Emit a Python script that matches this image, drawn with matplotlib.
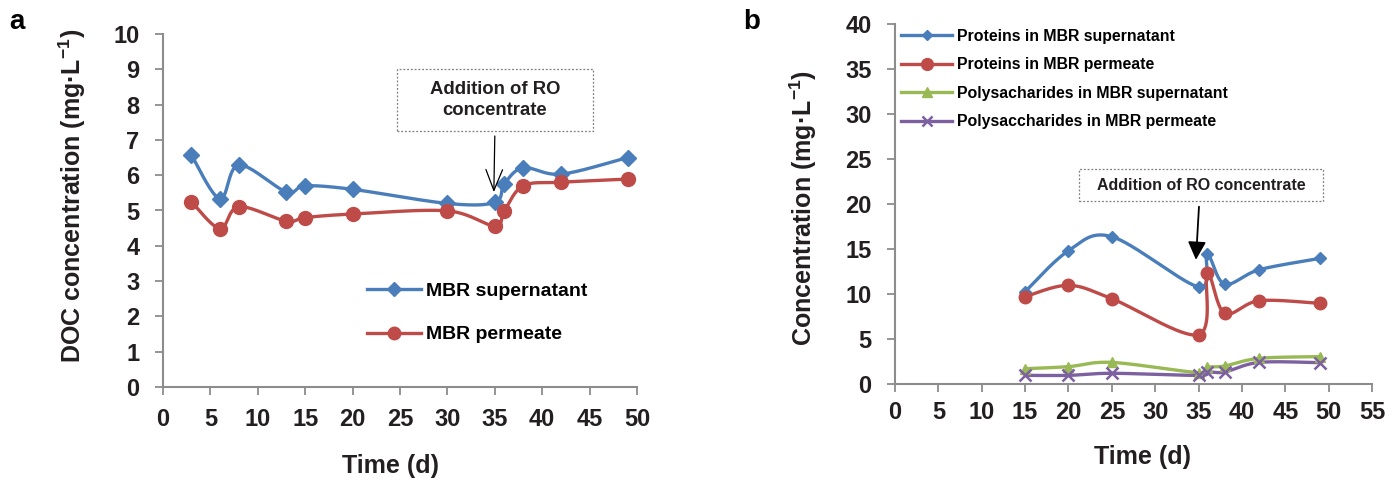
import numpy as np
import matplotlib
matplotlib.use("Agg")
import matplotlib.pyplot as plt
from matplotlib.patches import Rectangle

plt.rcParams['font.family'] = ['Liberation Sans', 'DejaVu Sans']
plt.rcParams['font.weight'] = 'bold'
plt.rcParams['mathtext.fontset'] = 'custom'
plt.rcParams['mathtext.bf'] = 'Liberation Sans:bold'
plt.rcParams['mathtext.rm'] = 'Liberation Sans:bold'

# ---------------- data ----------------
days_a = [3, 6, 8, 13, 15, 20, 30, 35, 36, 38, 42, 49]
doc_supernatant = [6.57, 5.33, 6.29, 5.53, 5.70, 5.60, 5.20, 5.23, 5.75, 6.21, 6.03, 6.50]
doc_permeate = [5.25, 4.49, 5.11, 4.70, 4.80, 4.90, 4.99, 4.56, 4.99, 5.70, 5.80, 5.89]

days_b = [15, 20, 25, 35, 36, 38, 42, 49]
prot_supernatant = [10.26, 14.8, 16.37, 10.8, 14.4, 11.1, 12.7, 13.96]
prot_permeate = [9.7, 10.96, 9.48, 5.48, 12.3, 7.85, 9.26, 8.96]
poly_supernatant = [1.7, 1.93, 2.4, 1.26, 1.85, 2.0, 2.85, 3.04]
poly_permeate = [0.96, 0.96, 1.19, 0.96, 1.33, 1.33, 2.4, 2.37]

labels_a = ['MBR supernatant', 'MBR permeate']
labels_b = ['Proteins in MBR supernatant', 'Proteins in MBR permeate',
            'Polysacharides in MBR supernatant', 'Polysaccharides in MBR permeate']

BLUE = '#4A7EBB'
RED = '#BE4B48'
GREEN = '#98B954'
PURPLE = '#7D60A0'
SPINE = '#8c8c8c'
TXT = '#231f20'


def smooth(x, y, n=40):
    pts = np.column_stack([x, y]).astype(float)
    out = []
    m = len(pts)
    t = np.linspace(0, 1, n)[:, None]
    for i in range(m - 1):
        p0 = pts[i - 1] if i > 0 else pts[i]
        p1 = pts[i]
        p2 = pts[i + 1]
        p3 = pts[i + 2] if i + 2 < m else pts[i + 1]
        c1 = p1 + (p2 - p0) / 6.0
        c2 = p2 - (p3 - p1) / 6.0
        seg = ((1 - t) ** 3) * p1 + 3 * ((1 - t) ** 2) * t * c1 + 3 * (1 - t) * t ** 2 * c2 + t ** 3 * p2
        out.append(seg if i == 0 else seg[1:])
    arr = np.vstack(out)
    return arr[:, 0], arr[:, 1]


def series(ax, x, y, color, marker, ms, lw, label, mew=1.0, lms=None):
    sx, sy = smooth(x, y)
    ax.plot(sx, sy, color=color, lw=lw, solid_capstyle='round', zorder=2)
    ax.plot(x, y, linestyle='none', marker=marker, ms=ms, color=color,
            markeredgecolor=color, mew=mew, zorder=3)
    return ax.plot([], [], color=color, lw=lw, marker=marker, ms=lms if lms else ms,
                   markeredgecolor=color, mew=mew, label=label)[0]


def style_axes(ax, xpad, ypad, fs):
    for s in ['top', 'right']:
        ax.spines[s].set_visible(False)
    for s in ['left', 'bottom']:
        ax.spines[s].set_color(SPINE)
        ax.spines[s].set_linewidth(1.5)
    ax.tick_params(axis='both', direction='out', length=6, width=1.3, color=SPINE,
                   labelsize=fs, labelcolor=TXT)
    ax.tick_params(axis='x', pad=xpad)
    ax.tick_params(axis='y', pad=ypad)
    for lab in ax.get_xticklabels() + ax.get_yticklabels():
        lab.set_fontweight('bold')


fig = plt.figure(figsize=(13.99, 4.80), dpi=100)

# ---------------- panel a ----------------
axa = fig.add_axes([163 / 1399, (480 - 387) / 480, (637 - 163) / 1399, (387 - 34) / 480])
h1 = series(axa, days_a, doc_supernatant, BLUE, 'D', 8, 2.4, labels_a[0], lms=7)
h2 = series(axa, days_a, doc_permeate, RED, 'o', 10, 2.4, labels_a[1], lms=9)
axa.set_xlim(0, 50)
axa.set_ylim(0, 10)
axa.set_xticks(np.arange(0, 51, 5))
axa.set_yticks(np.arange(0, 11, 1))
style_axes(axa, 9, 11, 17)
axa.set_xlabel('Time (d)', fontsize=18, fontweight='bold', color=TXT)
axa.xaxis.set_label_coords((391 - 163) / 474, -(454 - 387) / 353)
axa.set_ylabel('DOC concentration (mg·L$^{\\mathbf{-1}}$)', fontsize=18, fontweight='bold', color=TXT)
axa.yaxis.set_label_coords(-(163 - 88) / 474, (387 - 196) / 353)
fig.legend(handles=[h1, h2], loc='upper left', bbox_to_anchor=(367 / 1399, (480 - 282) / 480),
           frameon=False, handlelength=2.8, handletextpad=0.25,
           labelspacing=1.35, borderpad=0, borderaxespad=0, prop={'weight': 'bold', 'size': 14})

# annotation box a
fig.patches.append(Rectangle((397 / 1399, (480 - 131) / 480), (593 - 397) / 1399, (131 - 69) / 480,
                             transform=fig.transFigure, fill=False, edgecolor='#7f7f7f',
                             linestyle=(0, (1.5, 1.5)), linewidth=0.9))
fig.text(495 / 1399, (480 - 100) / 480, 'Addition of RO\nconcentrate', ha='center', va='center',
         fontsize=13.3, fontweight='bold', color=TXT, linespacing=1.3)
axa.annotate('', xy=(34.9, 5.52), xytext=(35.0, 7.11),
             arrowprops=dict(arrowstyle='->,head_length=1.5,head_width=0.6', color='black',
                             lw=0.9, mutation_scale=10, shrinkA=0, shrinkB=0))

# ---------------- panel b ----------------
axb = fig.add_axes([895 / 1399, (480 - 384) / 480, (1372 - 895) / 1399, (384 - 24) / 480])
g1 = series(axb, days_b, prot_supernatant, BLUE, 'D', 6.5, 2.4, labels_b[0], lms=5.5)
g2 = series(axb, days_b, prot_permeate, RED, 'o', 9, 2.4, labels_b[1], lms=8.5)
g3 = series(axb, days_b, poly_supernatant, GREEN, '^', 7.5, 2.4, labels_b[2], lms=6.5)
g4 = series(axb, days_b, poly_permeate, PURPLE, 'x', 8, 2.4, labels_b[3], mew=1.8, lms=6.5)
axb.set_xlim(0, 55)
axb.set_ylim(0, 40)
axb.set_xticks(np.arange(0, 56, 5))
axb.set_yticks(np.arange(0, 41, 5))
style_axes(axb, 6, 11, 17)
axb.set_xlabel('Time (d)', fontsize=18, fontweight='bold', color=TXT)
axb.xaxis.set_label_coords((1142 - 895) / 477, -(445 - 384) / 360)
axb.set_ylabel('Concentration (mg·L$^{\\mathbf{-1}}$)', fontsize=18, fontweight='bold', color=TXT)
axb.yaxis.set_label_coords(-(895 - 819) / 477, (384 - 208) / 360)
fig.legend(handles=[g1, g2, g3, g4], loc='upper left', bbox_to_anchor=(901 / 1399, (480 - 29) / 480),
           frameon=False, handlelength=3.25, handletextpad=0.3,
           labelspacing=0.85, borderpad=0, borderaxespad=0, prop={'weight': 'bold', 'size': 11.4})

fig.patches.append(Rectangle((1079 / 1399, (480 - 201) / 480), (1323 - 1079) / 1399, (201 - 169) / 480,
                             transform=fig.transFigure, fill=False, edgecolor='#7f7f7f',
                             linestyle=(0, (1.5, 1.5)), linewidth=0.9))
fig.text(1201 / 1399, (480 - 185) / 480, 'Addition of RO concentrate', ha='center', va='center',
         fontsize=11.5, fontweight='bold', color=TXT)
axb.annotate('', xy=(34.7, 13.8), xytext=(35.05, 19.7),
             arrowprops=dict(arrowstyle='-|>,head_length=1.1,head_width=0.55', color='black',
                             lw=1.3, mutation_scale=10, shrinkA=0, shrinkB=0))

# panel letters
fig.text(17 / 1399, (480 - 22) / 480, 'a', fontsize=20, fontweight='bold', ha='center', va='center', color='black')
fig.text(752 / 1399, (480 - 22) / 480, 'b', fontsize=20, fontweight='bold', ha='center', va='center', color='black')

fig.savefig('out.png', dpi=100)
